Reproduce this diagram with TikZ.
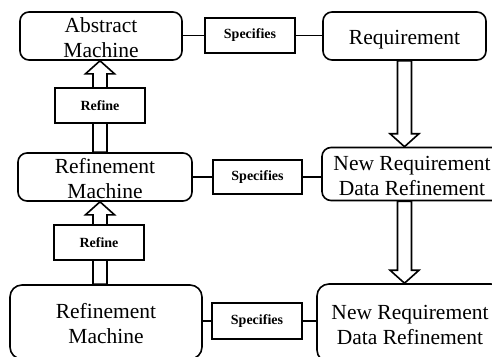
\documentclass[tikz,border=0pt]{standalone}
\usepackage{fontspec}
\setmainfont{Liberation Serif}
\usetikzlibrary{calc}

\tikzset{
  machine/.style={draw, line width=1.6pt, rounded corners=9pt, align=center,
    inner sep=0pt, font=\fontsize{21.5}{25}\selectfont, text height=44pt},
  relbox/.style={draw, line width=1.6pt, fill=white, inner sep=0pt,
    minimum width=90pt, minimum height=35pt, font=\bfseries\fontsize{14}{16}\selectfont},
  link/.style={line width=1.6pt},
  arrowbody/.style={draw, fill=white, line width=1.6pt, line join=miter}
}

% hollow block arrow from #1 to #2
\newcommand{\hollowarrow}[2]{%
  \coordinate (ha-s) at #1;
  \coordinate (ha-t) at #2;
  \coordinate (ha-h) at ($(ha-t)!13pt!(ha-s)$);
  \draw[arrowbody] ($(ha-s)!7pt!90:(ha-t)$) -- ($(ha-h)!7pt!-90:(ha-s)$)
    -- ($(ha-h)!14.5pt!-90:(ha-s)$) -- (ha-t) -- ($(ha-h)!14.5pt!90:(ha-s)$)
    -- ($(ha-h)!7pt!90:(ha-s)$) -- ($(ha-s)!7pt!-90:(ha-t)$) -- cycle;
}

\begin{document}
\begin{tikzpicture}[x=1pt,y=-1pt]
  \useasboundingbox (0,0) rectangle (492,356);
  \clip (0,0) rectangle (492,356);

  % top row
  \node[machine, minimum width=162pt, minimum height=48pt] (am) at (101,36) {Abstract\\Machine};
  \node[relbox] (spec1) at (250,35.5) {Specifies};
  \node[machine, minimum width=163pt, minimum height=48pt, text height=22pt] (req) at (404.5,36) {Requirement};

  % middle row
  \node[machine, minimum width=174pt, minimum height=48pt] (rm1) at (105,177) {Refinement\\Machine};
  \node[relbox, minimum width=89pt, minimum height=34pt] (spec2) at (257.5,177) {Specifies};
  \node[machine, minimum width=180pt, minimum height=53pt] (nr1) at (412,174) {New Requirement\\Data Refinement};

  % bottom row
  \node[machine, minimum width=192pt, minimum height=74pt, rounded corners=12pt] (rm2) at (106,322) {Refinement\\Machine};
  \node[relbox, minimum height=36pt] (spec3) at (257,321) {Specifies};
  \node[machine, minimum width=186pt, minimum height=78pt, rounded corners=12pt] (nr2) at (410,323) {New Requirement\\Data Refinement};

  % specifies links
  \draw[link] (am.east |- spec1) -- (spec1.west);
  \draw[link] (spec1.east) -- (spec1.east -| req.west);
  \draw[link] (rm1.east |- spec2) -- (spec2.west);
  \draw[link] (spec2.east) -- (spec2.east -| nr1.west);
  \draw[link] (rm2.east |- spec3) -- (spec3.west);
  \draw[link] (spec3.east) -- (spec3.east -| nr2.west);

  % requirement arrows
  \hollowarrow{(req.south)}{(req.south |- nr1.north)}
  \hollowarrow{(req.south |- nr1.south)}{(req.south |- nr2.north)}

  % refine arrows, boxes drawn on top
  \coordinate (col) at (100,0);
  \hollowarrow{(rm1.north -| col)}{(am.south -| col)}
  \hollowarrow{(rm2.north -| col)}{(rm1.south -| col)}
  \node[relbox] (ref1) at (100,105.5) {Refine};
  \node[relbox] (ref2) at (99,242.5) {Refine};
\end{tikzpicture}
\end{document}
